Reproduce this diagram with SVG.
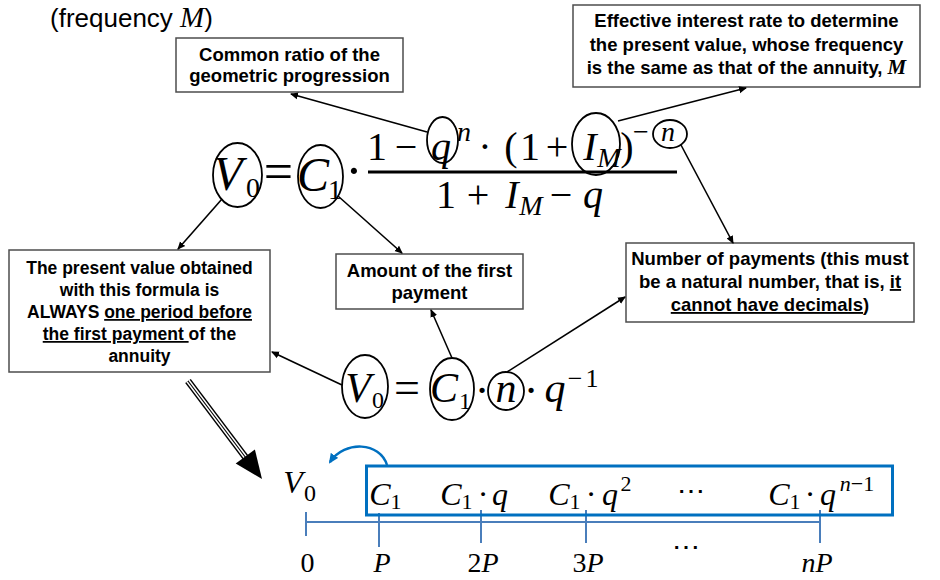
<svg xmlns="http://www.w3.org/2000/svg" width="940" height="580" viewBox="0 0 940 580">
<style>
.box{fill:#fff;stroke:#4d4d4d;stroke-width:1.5}
.lbl{font-family:"Liberation Sans",Arial,sans-serif;font-weight:bold;font-size:18.5px;fill:#000;text-anchor:middle}
.sm{font-size:17.5px}
.mi{font-family:"Liberation Serif","Times New Roman",serif;font-style:italic;fill:#000;text-anchor:middle}
.mr{font-family:"Liberation Serif","Times New Roman",serif;fill:#000;text-anchor:middle}
.ell{fill:none;stroke:#000;stroke-width:1.8}
.con{fill:none;stroke:#000;stroke-width:1.6;marker-end:url(#ah)}
.tl{stroke:#4a7ebb;stroke-width:2;fill:none}
</style>
<defs>
<marker id="ah" markerWidth="8" markerHeight="8" refX="7" refY="4" orient="auto" markerUnits="userSpaceOnUse">
<path d="M0,0.5 L8,4 L0,7.5 Z" fill="#000"/>
</marker>
<marker id="bh" markerWidth="10" markerHeight="10" refX="8" refY="5" orient="auto" markerUnits="userSpaceOnUse">
<path d="M0,0.5 L10,5 L0,9.5 Z" fill="#0070c0"/>
</marker>
</defs>

<text x="50" y="27" font-family="Liberation Sans,Arial,sans-serif" font-size="26" fill="#000">(frequency <tspan font-family="Liberation Serif,serif" font-style="italic" font-size="29">M</tspan>)</text>

<g id="box-ratio">
<rect class="box" x="176" y="38" width="227" height="54"/>
<text class="lbl" x="289.5" y="61">Common ratio of the</text>
<text class="lbl" x="289.5" y="82">geometric progression</text>
</g>

<g id="box-rate">
<rect class="box" x="573" y="5" width="347" height="82"/>
<text class="lbl" x="746.5" y="27">Effective interest rate to determine</text>
<text class="lbl" x="746.5" y="50.5">the present value, whose frequency</text>
<text class="lbl" x="746.5" y="74">is the same as that of the annuity, <tspan font-family="Liberation Serif,serif" font-style="italic" font-size="21">M</tspan></text>
</g>

<g id="box-present">
<rect class="box" x="9" y="250" width="261" height="122"/>
<text class="lbl sm" x="139.5" y="274">The present value obtained</text>
<text class="lbl sm" x="139.5" y="296">with this formula is</text>
<text class="lbl sm" x="139.5" y="318">ALWAYS <tspan text-decoration="underline">one period before</tspan></text>
<text class="lbl sm" x="139.5" y="340"><tspan text-decoration="underline">the first payment </tspan>of the</text>
<text class="lbl sm" x="139.5" y="362">annuity</text>
</g>

<g id="box-amount">
<rect class="box" x="336" y="254" width="187" height="55"/>
<text class="lbl" x="429.5" y="277">Amount of the first</text>
<text class="lbl" x="429.5" y="299">payment</text>
</g>

<g id="box-number">
<rect class="box" x="626" y="243" width="288" height="79"/>
<text class="lbl" x="770" y="265">Number of payments (this must</text>
<text class="lbl" x="770" y="288">be a natural number, that is, <tspan text-decoration="underline">it</tspan></text>
<text class="lbl" x="770" y="311"><tspan text-decoration="underline">cannot have decimals</tspan>)</text>
</g>

<g id="formula-main">
<text class="mi" x="228" y="190" font-size="48">V</text>
<text class="mr" x="253" y="197" font-size="28">0</text>
<text class="mr" x="278.5" y="189" font-size="52">=</text>
<text class="mi" x="313" y="191" font-size="48">C</text>
<text class="mr" x="335" y="199" font-size="28">1</text>
<text class="mr" x="354" y="188" font-size="52">·</text>
<line x1="368" y1="172" x2="677" y2="172" stroke="#000" stroke-width="3"/>
<text class="mr" x="377" y="160" font-size="40">1</text>
<text class="mr" x="406" y="160" font-size="40">−</text>
<text class="mi" x="441" y="160" font-size="40">q</text>
<text class="mi" x="464" y="141" font-size="28">n</text>
<text class="mr" x="485" y="160" font-size="40">·</text>
<text class="mr" x="511" y="160" font-size="40">(</text>
<text class="mr" x="530" y="160" font-size="40">1</text>
<text class="mr" x="557" y="160" font-size="40">+</text>
<text class="mi" x="590" y="160" font-size="40">I</text>
<text class="mi" x="609" y="167" font-size="28">M</text>
<text class="mr" x="627" y="160" font-size="40">)</text>
<text class="mr" x="641" y="141" font-size="28">−</text>
<text class="mi" x="668" y="141" font-size="28">n</text>
<text class="mr" x="446" y="208" font-size="40">1</text>
<text class="mr" x="478" y="208" font-size="40">+</text>
<text class="mi" x="512" y="208" font-size="40">I</text>
<text class="mi" x="531" y="215" font-size="28">M</text>
<text class="mr" x="561" y="208" font-size="40">−</text>
<text class="mi" x="593" y="208" font-size="40">q</text>
</g>

<g id="circles-main">
<ellipse class="ell" cx="237.5" cy="175" rx="24.5" ry="32"/>
<ellipse class="ell" cx="320.5" cy="176.5" rx="22.5" ry="31.5"/>
<ellipse class="ell" cx="442.5" cy="140" rx="15.5" ry="23"/>
<ellipse class="ell" cx="596" cy="144" rx="24" ry="31"/>
<ellipse class="ell" cx="670" cy="134" rx="17" ry="14"/>
</g>

<g id="formula-simple">
<text class="mi" x="358" y="402" font-size="42">V</text>
<text class="mr" x="378" y="408" font-size="24">0</text>
<text class="mr" x="407" y="403" font-size="46">=</text>
<text class="mi" x="444" y="402" font-size="42">C</text>
<text class="mr" x="465" y="409" font-size="24">1</text>
<text class="mr" x="482" y="405" font-size="44">·</text>
<text class="mi" x="506" y="402" font-size="42">n</text>
<text class="mr" x="531" y="405" font-size="44">·</text>
<text class="mi" x="555" y="402" font-size="42">q</text>
<text class="mr" x="575" y="387" font-size="26">−</text>
<text class="mr" x="592" y="387" font-size="26">1</text>
<ellipse class="ell" cx="365" cy="386.5" rx="23" ry="31.5"/>
<ellipse class="ell" cx="452" cy="389" rx="22" ry="31"/>
<ellipse class="ell" cx="506" cy="391" rx="18" ry="19"/>
</g>

<g id="connectors">
<path class="con" d="M427,132 L291,94"/>
<path class="con" d="M618,121 L746,88"/>
<path class="con" d="M681,145 L733,243"/>
<path class="con" d="M222,199 L178,249"/>
<path class="con" d="M338,196 L402,253"/>
<path class="con" d="M342,385 L272,352"/>
<path class="con" d="M452,358 L431,310"/>
<path class="con" d="M507,372 L625,297"/>
<g id="big-arrow">
<line x1="188" y1="381" x2="246" y2="458" stroke="#000" stroke-width="7"/>
<line x1="188" y1="381" x2="246" y2="458" stroke="#fff" stroke-width="4"/>
<line x1="188" y1="381" x2="246" y2="458" stroke="#000" stroke-width="1.2"/>
<path d="M262,479 L235.7,463.6 L254.9,449.4 Z" fill="#000"/>
</g>
<path d="M387,465 C380,442 345,440 330,462" fill="none" stroke="#0070c0" stroke-width="2.5" marker-end="url(#bh)"/>
</g>

<g id="timeline">
<line class="tl" x1="306" y1="522" x2="820" y2="522"/>
<line class="tl" x1="306" y1="512" x2="306" y2="536"/>
<line class="tl" x1="379" y1="513" x2="379" y2="547" stroke-width="2.5"/>
<line class="tl" x1="481" y1="510" x2="481" y2="543"/>
<line class="tl" x1="586" y1="510" x2="586" y2="543"/>
<line class="tl" x1="820" y1="510" x2="820" y2="543"/>
<text class="mr" x="307.5" y="572" font-size="28">0</text>
<text class="mi" x="382" y="572" font-size="28">P</text>
<text class="mi" x="483" y="572" font-size="28"><tspan font-style="normal">2</tspan>P</text>
<text class="mi" x="588" y="572" font-size="28"><tspan font-style="normal">3</tspan>P</text>
<text class="mr" x="686" y="556" font-size="28">⋯</text>
<text class="mi" x="817" y="572" font-size="28">nP</text>
</g>

<g id="v0-label">
<text class="mi" x="293" y="493" font-size="32">V</text>
<text class="mr" x="310" y="501" font-size="24">0</text>
</g>

<g id="payments">
<rect x="366.5" y="466" width="526" height="49" fill="none" stroke="#0070c0" stroke-width="3"/>
<text class="mi" x="380" y="505" font-size="32">C</text>
<text class="mr" x="396" y="509" font-size="22">1</text>
<text class="mi" x="451" y="505" font-size="32">C</text>
<text class="mr" x="467" y="509" font-size="22">1</text>
<text class="mr" x="483" y="505" font-size="32">·</text>
<text class="mi" x="500" y="505" font-size="32">q</text>
<text class="mi" x="559" y="505" font-size="32">C</text>
<text class="mr" x="575" y="509" font-size="22">1</text>
<text class="mr" x="591" y="505" font-size="32">·</text>
<text class="mi" x="610" y="505" font-size="32">q</text>
<text class="mr" x="626" y="491" font-size="22">2</text>
<text class="mr" x="691" y="500" font-size="28">⋯</text>
<text class="mi" x="779" y="505" font-size="32">C</text>
<text class="mr" x="795" y="509" font-size="22">1</text>
<text class="mr" x="810" y="505" font-size="32">·</text>
<text class="mi" x="828" y="505" font-size="32">q</text>
<text class="mr" x="857" y="491" font-size="22"><tspan font-style="italic">n</tspan>−1</text>
</g>
</svg>
